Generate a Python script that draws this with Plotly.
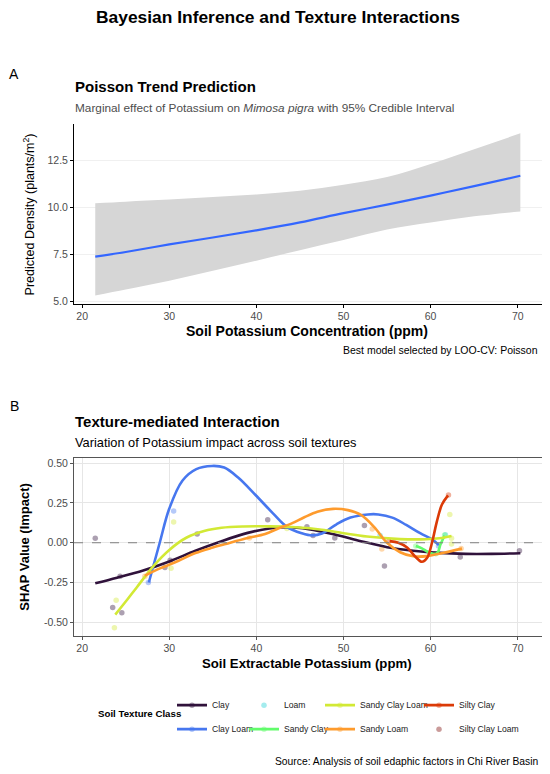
import plotly.graph_objects as go

# ---------------------------
# 1. DATA - panel A (Poisson trend)
# ---------------------------
k_trend = [21.5, 25, 30, 35, 40, 45, 50, 55, 60, 65, 70.3]
density_mean = [7.38, 7.63, 8.03, 8.40, 8.78, 9.20, 9.69, 10.14, 10.62, 11.12, 11.67]
density_low = [5.32, 5.64, 6.10, 6.63, 7.17, 7.72, 8.26, 8.82, 9.19, 9.52, 9.78]
density_high = [10.22, 10.30, 10.41, 10.55, 10.68, 10.88, 11.20, 11.60, 12.29, 13.08, 13.92]

y_ticks_a = [5.0, 7.5, 10.0, 12.5]
y_labels_a = ["5.0", "7.5", "10.0", "12.5"]
x_ticks = [20, 30, 40, 50, 60, 70]

# ---------------------------
# 2. DATA - panel B (SHAP by texture)
# ---------------------------
textures = ["Clay", "Clay Loam", "Loam", "Sandy Clay",
            "Sandy Clay Loam", "Sandy Loam", "Silty Clay", "Silty Clay Loam"]

clay_pts_x = [21.5, 23.5, 24.55, 24.35, 29.5, 30.1, 33.2, 41.3, 45.8, 46.5, 49.0, 52.4, 54.7, 63.4, 70.2]
clay_pts_y = [0.028, -0.407, -0.44, -0.21, -0.155, -0.11, 0.055, 0.145, 0.10, 0.045, 0.03, 0.108, -0.147, -0.09, -0.05]
clay_fit_x = [21.5, 24, 27, 30, 33, 36, 39, 41.5, 43.5, 46, 49, 52, 55, 58, 61, 64, 67, 70.3]
clay_fit_y = [-0.255, -0.22, -0.175, -0.118, -0.05, 0.01, 0.062, 0.09, 0.097, 0.085, 0.052, 0.01, -0.028,
              -0.05, -0.064, -0.07, -0.07, -0.066]

clayloam_pts_x = [27.6, 30.5, 60.9]
clayloam_pts_y = [-0.25, 0.20, -0.02]
clayloam_fit_x = [27.65, 28.9, 30.0, 31.5, 33.1, 34.9, 36.3, 37.9, 39.9, 41.9, 43.5, 45.2, 46.4, 47.6,
                  49.2, 50.8, 52.8, 54.0, 55.6, 57.2, 58.8, 60.2, 60.95]
clayloam_fit_y = [-0.25, 0.0, 0.215, 0.39, 0.463, 0.483, 0.473, 0.41, 0.30, 0.185, 0.10, 0.06, 0.046, 0.06,
                  0.116, 0.158, 0.178, 0.178, 0.158, 0.112, 0.06, 0.02, -0.015]

loam_pts_x = [54.2, 61.7]
loam_pts_y = [0.045, 0.05]

sandyclay_pts_x = [58.3, 60.6, 61.6]
sandyclay_pts_y = [-0.02, -0.07, 0.049]
sandyclay_fit_x = [58.3, 59.0, 59.6, 60.3, 60.8, 61.1, 61.6]
sandyclay_fit_y = [-0.02, -0.035, -0.055, -0.07, -0.062, -0.015, 0.045]

scl_pts_x = [23.9, 23.7, 30.2, 30.5, 43.5, 62.2, 62.4, 62.4]
scl_pts_y = [-0.362, -0.535, -0.16, 0.13, 0.09, 0.178, 0.029, -0.008]
scl_fit_x = [23.8, 25, 26.3, 28.2, 30, 32, 34, 36, 38.5, 41.5, 44.5, 47.5, 50, 52.7, 56.5, 59.5, 61, 62.4]
scl_fit_y = [-0.452, -0.37, -0.278, -0.145, -0.045, 0.033, 0.074, 0.094, 0.102, 0.103, 0.097, 0.082,
             0.06, 0.039, 0.023, 0.022, 0.028, 0.043]

sandyloam_pts_x = [27.2, 39.2, 53.3, 54.4, 63.5]
sandyloam_pts_y = [-0.21, 0.03, 0.086, -0.04, -0.037]
sandyloam_fit_x = [27.2, 29, 31, 33, 35, 37, 39, 41, 42.5, 44, 45.5, 47, 48.8, 50.5, 52, 53.5, 55,
                   56.5, 58, 59.6, 61.5, 63.6]
sandyloam_fit_y = [-0.207, -0.16, -0.115, -0.065, -0.03, 0.0, 0.03, 0.055, 0.09, 0.12, 0.16, 0.195,
                   0.213, 0.205, 0.175, 0.10, 0.0, -0.06, -0.085, -0.084, -0.063, -0.037]

siltyclay_pts_x = [55.2, 62.05]
siltyclay_pts_y = [0.01, 0.30]
siltyclay_fit_x = [55.3, 56.3, 57.3, 58.2, 59.0, 59.6, 60.2, 60.7, 61.3, 62.0]
siltyclay_fit_y = [0.01, 0.0, -0.03, -0.085, -0.12, -0.095, 0.01, 0.13, 0.24, 0.298]

siltyclayloam_pts_x = []
siltyclayloam_pts_y = []

y_ticks_b = [-0.5, -0.25, 0.0, 0.25, 0.5]
y_labels_b = ["-0.50", "-0.25", "0.00", "0.25", "0.50"]

# ---------------------------
# 3. STYLE
# ---------------------------
FONT = "Liberation Sans, Arial, sans-serif"
texture_colors = ["#30123B", "#4777EF", "#1BD0D5", "#62FC6B",
                  "#D2E935", "#FE9B2D", "#DB3A07", "#7A0403"]

series = [
    (clay_pts_x, clay_pts_y, clay_fit_x, clay_fit_y),
    (clayloam_pts_x, clayloam_pts_y, clayloam_fit_x, clayloam_fit_y),
    (loam_pts_x, loam_pts_y, None, None),
    (sandyclay_pts_x, sandyclay_pts_y, sandyclay_fit_x, sandyclay_fit_y),
    (scl_pts_x, scl_pts_y, scl_fit_x, scl_fit_y),
    (sandyloam_pts_x, sandyloam_pts_y, sandyloam_fit_x, sandyloam_fit_y),
    (siltyclay_pts_x, siltyclay_pts_y, siltyclay_fit_x, siltyclay_fit_y),
    (siltyclayloam_pts_x, siltyclayloam_pts_y, None, None),
]

# the page body adds an 8px margin, so the figure is a bit smaller and
# every position below is given in window pixels
PAD = 8
W, H = 550 - PAD, 774 - PAD


def px(x):
    return (x - PAD) / W


def py(y):
    return 1 - (y - PAD) / H


fig = go.Figure()

# ---------------------------
# 4. PANEL A
# ---------------------------
fig.add_trace(go.Scatter(x=k_trend, y=density_high, mode="lines", line=dict(width=0, shape="spline"),
                         xaxis="x", yaxis="y", showlegend=False, hoverinfo="skip"))
fig.add_trace(go.Scatter(x=k_trend, y=density_low, mode="lines", line=dict(width=0, shape="spline"),
                         fill="tonexty", fillcolor="#D6D6D6",
                         xaxis="x", yaxis="y", showlegend=False, hoverinfo="skip"))
fig.add_trace(go.Scatter(x=k_trend, y=density_mean, mode="lines",
                         line=dict(color="#3366FF", width=2.2, shape="spline"),
                         xaxis="x", yaxis="y", showlegend=False))

# ---------------------------
# 5. PANEL B
# ---------------------------
for (ptx, pty, _, _), col in zip(series, texture_colors):
    if not ptx:
        continue
    fig.add_trace(go.Scatter(x=ptx, y=pty, mode="markers",
                             marker=dict(color=col, size=5.5, opacity=0.4),
                             xaxis="x2", yaxis="y2", showlegend=False))

for (_, _, fx, fy), col in zip(series, texture_colors):
    if fx is None:
        continue
    fig.add_trace(go.Scatter(x=fx, y=fy, mode="lines", line=dict(color=col, width=2.6, shape="spline"),
                             xaxis="x2", yaxis="y2", showlegend=False))

# legend entries: four columns of two rows (column-major like ggplot)
for i, (name, col) in enumerate(zip(textures, texture_colors)):
    has_line = series[i][2] is not None
    leg = "legend" if i < 2 else "legend%d" % (i // 2 + 1)
    fig.add_trace(go.Scatter(
        x=[None], y=[None], name=name, legend=leg, legendgroup=name,
        mode="lines+markers" if has_line else "markers",
        line=dict(color=col, width=2.6),
        marker=dict(color=col, size=5.5, opacity=0.4),
        xaxis="x2", yaxis="y2"))

fig.add_shape(type="line", xref="x2 domain", yref="y2", x0=0, x1=1, y0=0, y1=0,
              line=dict(color="#808080", width=1, dash="dash"))

# ---------------------------
# 6. LAYOUT
# ---------------------------
x_dom = [px(74), px(541.6)]
axis_font = dict(family=FONT, size=10.5, color="#4D4D4D")

legend_cols = [172, 244, 320, 419]
legends = {}
for j, lx in enumerate(legend_cols):
    key = "legend" if j == 0 else "legend%d" % (j + 1)
    legends[key] = dict(x=px(lx), y=py(694), xanchor="left", yanchor="top", orientation="v",
                        bgcolor="rgba(0,0,0,0)", itemwidth=30, tracegroupgap=5,
                        font=dict(family=FONT, size=8.6, color="#222222"))

fig.update_layout(
    width=W, height=H,
    margin=dict(l=0, r=0, t=0, b=0),
    paper_bgcolor="white", plot_bgcolor="white",
    font=dict(family=FONT, color="black"),
    xaxis=dict(domain=x_dom, anchor="y", range=[19.06, 72.74], tickvals=x_ticks,
               showline=True, linecolor="black", linewidth=1, ticks="outside", ticklen=3,
               tickcolor="black", tickfont=axis_font, showgrid=False, zeroline=False),
    yaxis=dict(domain=[py(304), py(123)], anchor="x", range=[4.89, 14.41],
               tickvals=y_ticks_a, ticktext=y_labels_a,
               showline=True, linecolor="black", linewidth=1, ticks="outside", ticklen=3,
               tickcolor="black", tickfont=axis_font, showgrid=True, gridcolor="#F0F0F0",
               gridwidth=1, zeroline=False),
    xaxis2=dict(domain=x_dom, anchor="y2", range=[19.06, 72.74], tickvals=x_ticks,
                showline=True, mirror=True, linecolor="#555555", linewidth=1, ticks="outside",
                ticklen=3, tickcolor="#555555", tickfont=axis_font, showgrid=True,
                gridcolor="#E6E6E6", gridwidth=1, zeroline=False),
    yaxis2=dict(domain=[py(638.7), py(460)], anchor="x2", range=[-0.585, 0.53],
                tickvals=y_ticks_b, ticktext=y_labels_b,
                showline=True, mirror=True, linecolor="#555555", linewidth=1, ticks="outside",
                ticklen=3, tickcolor="#555555", tickfont=axis_font, showgrid=True,
                gridcolor="#E6E6E6", gridwidth=1, zeroline=False),
    **legends,
)


def note(text, x, y, size, xanchor="left", bold=False, color="black", angle=0):
    if bold:
        text = "<b>" + text + "</b>"
    fig.add_annotation(text=text, x=px(x), y=py(y), xref="paper", yref="paper",
                       xanchor=xanchor, yanchor="middle", showarrow=False, textangle=angle,
                       font=dict(family=FONT, size=size, color=color))


note("Bayesian Inference and Texture Interactions", 278, 15, 17.4, "center", bold=True)

note("A", 14, 73, 14, "center")
note("Poisson Trend Prediction", 73, 85, 15, bold=True)
note("Marginal effect of Potassium on <i>Mimosa pigra</i> with 95% Credible Interval",
     73, 106.7, 11.8, color="#4D4D4D")
note("Predicted Density (plants/m<sup>2</sup>)", 29, 214, 12.5, "center", angle=-90)
note("Soil Potassium Concentration (ppm)", 307, 331.7, 14, "center", bold=True)
note("Best model selected by LOO-CV: Poisson", 540, 351, 10.5, "right")

note("B", 14, 407, 14, "center")
note("Texture-mediated Interaction", 73, 422.7, 15, bold=True)
note("Variation of Potassium impact across soil textures", 73, 444, 12.8)
note("SHAP Value (Impact)", 25, 549, 13, "center", bold=True, angle=-90)
note("Soil Extractable Potassium (ppm)", 307, 666.7, 13.2, "center", bold=True)

note("Soil Texture Class", 96, 716.7, 9.7, bold=True)
note("Source: Analysis of soil edaphic factors in Chi River Basin", 541, 765, 10.3, "right")

fig.write_html("out.html")
